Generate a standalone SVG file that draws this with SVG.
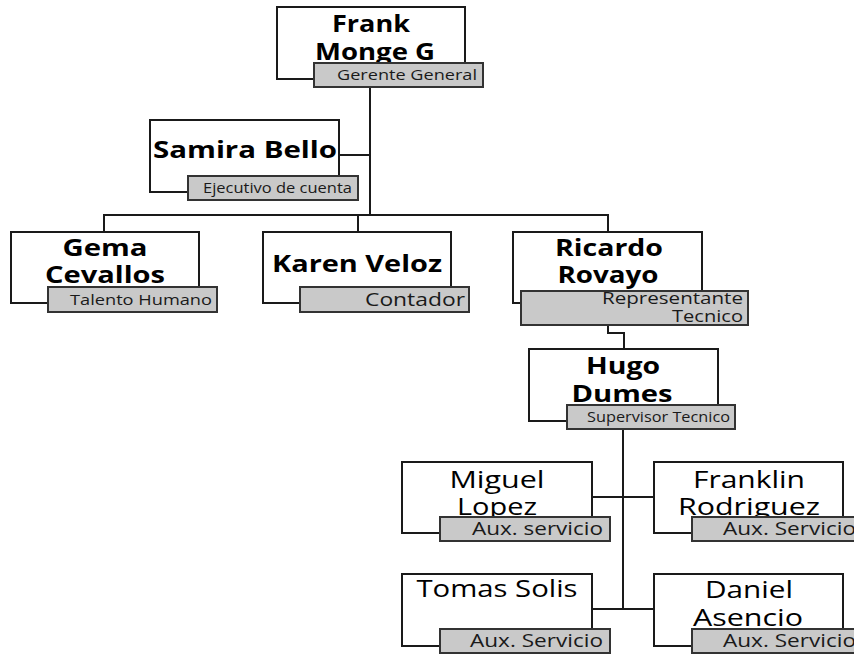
<svg xmlns="http://www.w3.org/2000/svg" width="854" height="654" viewBox="0 0 854 654">
<style>
.box{fill:#fff;stroke:#1a1a1a;stroke-width:2}
.lab{fill:#c9c9c9;stroke:#333;stroke-width:2}
.n{font-family:"Open Sans","Noto Sans",sans-serif;font-weight:bold;font-size:24px;fill:#000;text-anchor:middle}
.m{font-family:"Open Sans","Noto Sans",sans-serif;font-size:24px;fill:#000;text-anchor:middle}
.t{font-family:"Open Sans","Noto Sans",sans-serif;font-size:14px;fill:#1a1a1a;text-anchor:end}
.a{font-size:18px}
.c{fill:none;stroke:#1a1a1a;stroke-width:2}
</style>
<rect width="854" height="654" fill="#fff"/>
<g id="connectors">
<path class="c" d="M370 87V215"/>
<path class="c" d="M339 155H370"/>
<path class="c" d="M104 232V215H608V232"/>
<path class="c" d="M358 215V232"/>
<path class="c" d="M608 325V333H624V349"/>
<path class="c" d="M623 429V609"/>
<path class="c" d="M592 497H654"/>
<path class="c" d="M592 609H654"/>
</g>
<g id="frank">
<rect class="box" x="277" y="7" width="188" height="72"/>
<text class="n" x="371" y="32" textLength="78" lengthAdjust="spacingAndGlyphs">Frank</text>
<text class="n" x="375" y="60" textLength="120" lengthAdjust="spacingAndGlyphs">Monge G</text>
<rect class="lab" x="314" y="63" width="169" height="24"/>
<text class="t" x="477" y="80" textLength="140" lengthAdjust="spacingAndGlyphs">Gerente General</text>
</g>
<g id="samira">
<rect class="box" x="150" y="120" width="189" height="72"/>
<text class="n" x="245" y="158" textLength="184" lengthAdjust="spacingAndGlyphs">Samira Bello</text>
<rect class="lab" x="188" y="176" width="170" height="24"/>
<text class="t" x="352" y="193" textLength="149" lengthAdjust="spacingAndGlyphs">Ejecutivo de cuenta</text>
</g>
<g id="gema">
<rect class="box" x="11" y="232" width="188" height="71"/>
<text class="n" x="105" y="256" textLength="85" lengthAdjust="spacingAndGlyphs">Gema</text>
<text class="n" x="105" y="283" textLength="120" lengthAdjust="spacingAndGlyphs">Cevallos</text>
<rect class="lab" x="48" y="287" width="169" height="25"/>
<text class="t" x="212" y="305" textLength="142" lengthAdjust="spacingAndGlyphs">Talento Humano</text>
</g>
<g id="karen">
<rect class="box" x="263" y="232" width="188" height="71"/>
<text class="n" x="357" y="272" textLength="170" lengthAdjust="spacingAndGlyphs">Karen Veloz</text>
<rect class="lab" x="300" y="287" width="169" height="25"/>
<text class="t a" x="465" y="306" textLength="100" lengthAdjust="spacingAndGlyphs">Contador</text>
</g>
<g id="ricardo">
<rect class="box" x="513" y="232" width="189" height="71"/>
<text class="n" x="609" y="256" textLength="108" lengthAdjust="spacingAndGlyphs">Ricardo</text>
<text class="n" x="608" y="283" textLength="101" lengthAdjust="spacingAndGlyphs">Rovayo</text>
<rect class="lab" x="521" y="291" width="227" height="34"/>
<text class="t" x="743" y="304" style="font-size:16px" textLength="141" lengthAdjust="spacingAndGlyphs">Representante</text>
<text class="t" x="743" y="322" style="font-size:16px" textLength="71" lengthAdjust="spacingAndGlyphs">Tecnico</text>
</g>
<g id="hugo">
<rect class="box" x="529" y="349" width="189" height="72"/>
<text class="n" x="623" y="374" textLength="74" lengthAdjust="spacingAndGlyphs">Hugo</text>
<text class="n" x="622" y="402" textLength="101" lengthAdjust="spacingAndGlyphs">Dumes</text>
<rect class="lab" x="567" y="405" width="168" height="24"/>
<text class="t" x="730" y="422" textLength="143" lengthAdjust="spacingAndGlyphs">Supervisor Tecnico</text>
</g>
<g id="miguel">
<rect class="box" x="402" y="462" width="190" height="71"/>
<text class="m" x="497" y="488" textLength="95" lengthAdjust="spacingAndGlyphs">Miguel</text>
<text class="m" x="497" y="515" textLength="80" lengthAdjust="spacingAndGlyphs">Lopez</text>
<rect class="lab" x="440" y="517" width="170" height="24"/>
<text class="t a" x="603" y="535" textLength="131" lengthAdjust="spacingAndGlyphs">Aux. servicio</text>
</g>
<g id="franklin">
<rect class="box" x="654" y="462" width="189" height="71"/>
<text class="m" x="749" y="488" textLength="112" lengthAdjust="spacingAndGlyphs">Franklin</text>
<text class="m" x="749" y="515" textLength="142" lengthAdjust="spacingAndGlyphs">Rodriguez</text>
<rect class="lab" x="692" y="517" width="170" height="24"/>
<text class="t a" x="856" y="535" textLength="133" lengthAdjust="spacingAndGlyphs">Aux. Servicio</text>
</g>
<g id="tomas">
<rect class="box" x="402" y="574" width="190" height="72"/>
<text class="m" x="497" y="597" textLength="161" lengthAdjust="spacingAndGlyphs">Tomas Solis</text>
<rect class="lab" x="440" y="629" width="170" height="24"/>
<text class="t a" x="603" y="647" textLength="133" lengthAdjust="spacingAndGlyphs">Aux. Servicio</text>
</g>
<g id="daniel">
<rect class="box" x="654" y="574" width="189" height="72"/>
<text class="m" x="749" y="598" textLength="88" lengthAdjust="spacingAndGlyphs">Daniel</text>
<text class="m" x="748" y="626" textLength="110" lengthAdjust="spacingAndGlyphs">Asencio</text>
<rect class="lab" x="692" y="629" width="170" height="24"/>
<text class="t a" x="856" y="647" textLength="133" lengthAdjust="spacingAndGlyphs">Aux. Servicio</text>
</g>
</svg>
